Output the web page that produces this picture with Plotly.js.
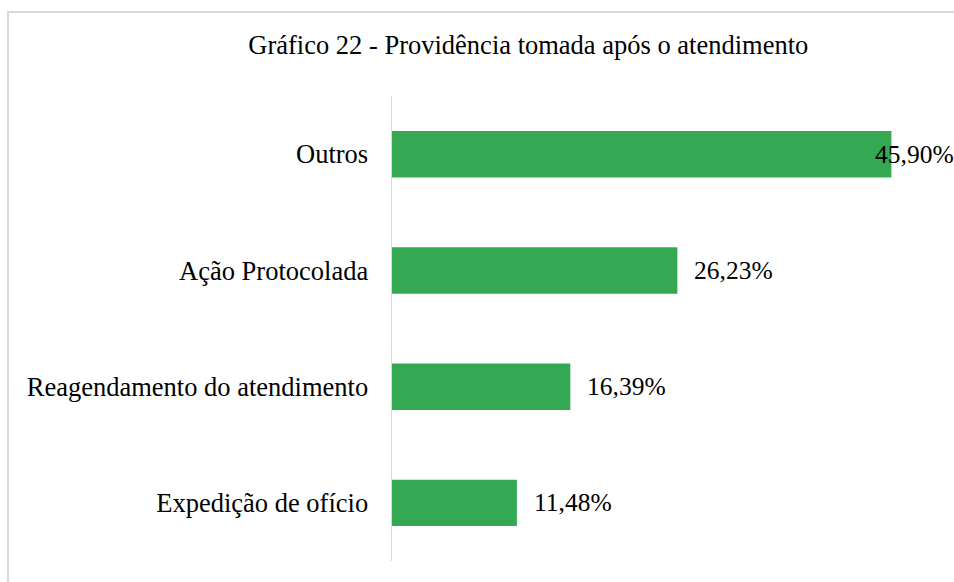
<!DOCTYPE html>
<html>
<head>
<meta charset="utf-8">
<script src="https://cdn.plot.ly/plotly-3.0.1.min.js"></script>
<style>
  html, body { margin: 0; padding: 0; background: #fff; }
  #wrap { position: relative; width: 954px; height: 582px; overflow: hidden; }
  #chart { position: absolute; left: 0; top: 0; width: 954px; height: 582px; }
  #frame { position: absolute; left: 7px; top: 11px; width: 1000px; height: 700px;
           border-left: 2px solid #d9d9d9; border-top: 2px solid #d9d9d9; pointer-events: none; }
</style>
</head>
<body>
<div id="wrap">
  <div id="chart"></div>
  <div id="frame"></div>
</div>
<script>
const categories = ["Outros", "Ação Protocolada", "Reagendamento do atendimento", "Expedição de ofício"];
const values = [45.90, 26.23, 16.39, 11.48];
const labelShift = [-18, 15, 15, 15];

const fmt = v => v.toFixed(2).replace('.', ',') + '%';
const serif = "Liberation Serif, Times New Roman, serif";

const trace = {
  type: 'bar',
  orientation: 'h',
  y: categories,
  x: values,
  marker: { color: '#34a853' },
  hoverinfo: 'none'
};

const annotations = values.map((v, i) => ({
  x: v, y: categories[i], xref: 'x', yref: 'y',
  text: fmt(v), showarrow: false,
  xanchor: 'left', yanchor: 'middle', xshift: labelShift[i],
  font: { family: serif, size: 25.5, color: '#000' }
}));

const layout = {
  width: 954, height: 582,
  margin: { l: 392, r: 18, t: 96, b: 21 },
  paper_bgcolor: '#fff', plot_bgcolor: '#fff',
  bargap: 0.6,
  showlegend: false,
  title: {
    text: 'Gráfico 22 - Providência tomada após o atendimento',
    font: { family: serif, size: 26.5, color: '#000' },
    x: 0.5538, xref: 'container', xanchor: 'center',
    y: 1 - 45 / 582, yref: 'container', yanchor: 'middle'
  },
  xaxis: {
    range: [0, 50], showticklabels: false, showgrid: false, zeroline: false,
    showline: false, ticks: ''
  },
  yaxis: {
    autorange: 'reversed', showgrid: false, zeroline: false,
    showline: true, linecolor: '#d9d9d9', linewidth: 1.5,
    ticks: '', ticklabelstandoff: 17,
    tickfont: { family: serif, size: 26.5, color: '#000' }
  },
  annotations: annotations
};

Plotly.newPlot('chart', [trace], layout, { displayModeBar: false, staticPlot: true });
</script>
</body>
</html>
